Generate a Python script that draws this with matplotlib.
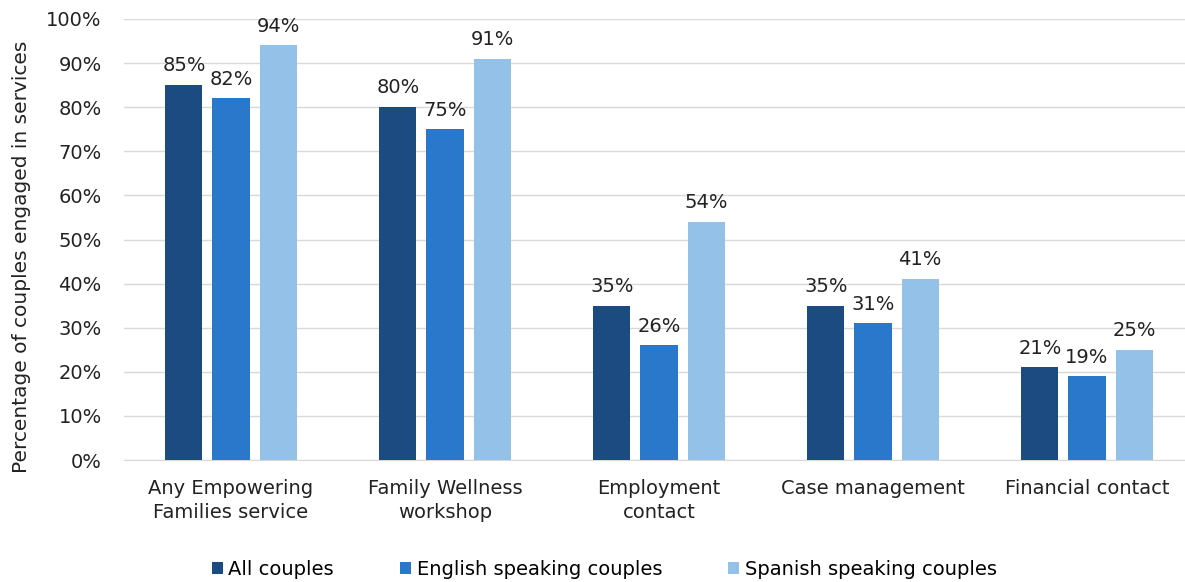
import matplotlib.pyplot as plt
import numpy as np

plt.rcParams['font.family'] = ['DejaVu Sans']

# data
categories = ["Any Empowering\nFamilies service", "Family Wellness\nworkshop",
              "Employment\ncontact", "Case management", "Financial contact"]
all_couples = [85, 80, 35, 35, 21]
english = [82, 75, 26, 31, 19]
spanish = [94, 91, 54, 41, 25]
series_names = ["All couples", "English speaking couples", "Spanish speaking couples"]
colors = ["#1c4b82", "#2a78cc", "#93c1e8"]

fig = plt.figure(figsize=(11.85, 5.82), dpi=100)
ax = fig.add_axes([124 / 1185, 1 - 460 / 582, (1185 - 124) / 1185, (460 - 19) / 582])

x = np.arange(len(categories))
w = 0.173
step = 0.22
for i, (vals, name, c) in enumerate(zip([all_couples, english, spanish], series_names, colors)):
    pos = x + (i - 1) * step
    bars = ax.bar(pos, vals, width=w, color=c, label=name, zorder=3)
    for b, v in zip(bars, vals):
        ax.text(b.get_x() + b.get_width() / 2, v + 2.2, f"{v}%", ha="center", va="bottom",
                fontsize=14, color="#222222")

ax.set_xlim(-0.5, (1185 - 124) / 214 - 0.5)
ax.set_ylim(0, 100)
ax.set_yticks(range(0, 101, 10))
ax.set_yticklabels([f"{t}%" for t in range(0, 101, 10)], fontsize=14, color="#222222")
ax.set_xticks(x)
ax.set_xticklabels(categories, fontsize=14, color="#222222", linespacing=1.3)
ax.tick_params(axis="both", length=0)
ax.tick_params(axis="y", pad=16)
ax.tick_params(axis="x", pad=14)
ax.grid(axis="y", color="#d9d9d9", linewidth=1, zorder=0)
for s in ["top", "right", "left"]:
    ax.spines[s].set_visible(False)
ax.spines["bottom"].set_color("#d9d9d9")

ax.set_ylabel("Percentage of couples engaged in services", fontsize=14.5, color="#222222")
ax.yaxis.set_label_coords(-0.088, 0.46)

fig.legend(loc="lower center", bbox_to_anchor=(0.51, -0.025), ncol=3, frameon=False,
           fontsize=14, handlelength=0.55, handleheight=0.55, handletextpad=0.3,
           columnspacing=3.4)

fig.savefig("out.png", dpi=100)
